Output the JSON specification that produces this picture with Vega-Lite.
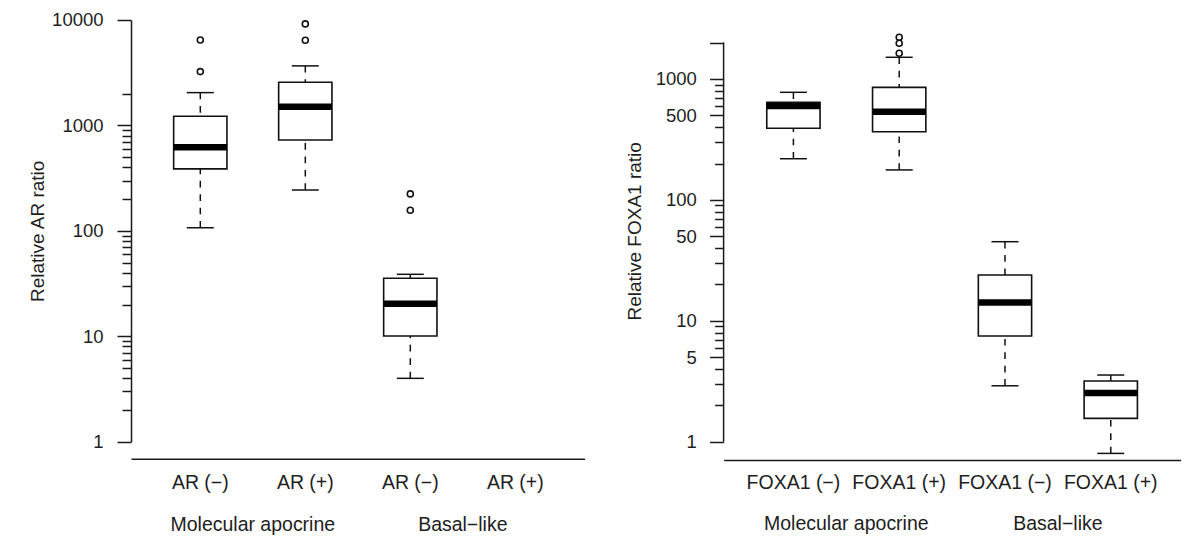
{
  "$schema": "https://vega.github.io/schema/vega-lite/v6.json",
  "background": "white",
  "padding": {"left": 28, "top": 11, "right": 5, "bottom": 5},
  "bounds": "flush",
  "spacing": 138.6,
  "config": {
    "view": {"stroke": null},
    "font": "Liberation Sans",
    "tick": {"opacity": 1},
    "axis": {"grid": false, "labelColor": "#1e1e1e", "titleColor": "#1e1e1e", "domainColor": "#1a1a1a", "tickColor": "#1a1a1a", "domainWidth": 1.5, "tickWidth": 1.5, "titleFontWeight": "normal", "labelFlush": false, "labelBound": false, "labelOverlap": false}
  },
  "datasets": {
    "ar_box": [
      {"id": "MA|AR (−)", "lower": 107, "q1": 387, "median": 621, "q3": 1222, "upper": 2047},
      {"id": "MA|AR (+)", "lower": 244, "q1": 728, "median": 1500, "q3": 2570, "upper": 3670},
      {"id": "BL|AR (−)", "lower": 3.99, "q1": 10.06, "median": 20.4, "q3": 35.5, "upper": 38.7}
    ],
    "ar_out": [
      {"id": "MA|AR (−)", "value": 3240},
      {"id": "MA|AR (−)", "value": 6470},
      {"id": "MA|AR (+)", "value": 6430},
      {"id": "MA|AR (+)", "value": 9180},
      {"id": "BL|AR (−)", "value": 157},
      {"id": "BL|AR (−)", "value": 224}
    ],
    "fx_box": [
      {"id": "MA|FOXA1 (−)", "lower": 219, "q1": 391, "median": 598, "q3": 642, "upper": 776},
      {"id": "MA|FOXA1 (+)", "lower": 177, "q1": 366, "median": 537, "q3": 853, "upper": 1512},
      {"id": "BL|FOXA1 (−)", "lower": 2.9, "q1": 7.48, "median": 14.2, "q3": 23.9, "upper": 45.1},
      {"id": "BL|FOXA1 (+)", "lower": 0.8, "q1": 1.56, "median": 2.53, "q3": 3.18, "upper": 3.56}
    ],
    "fx_out": [
      {"id": "MA|FOXA1 (+)", "value": 1632},
      {"id": "MA|FOXA1 (+)", "value": 1973},
      {"id": "MA|FOXA1 (+)", "value": 2213}
    ],
    "groups": [
      {"group": "Molecular apocrine"},
      {"group": "Basal−like"}
    ]
  },
  "hconcat": [
    {
      "width": 453.6,
      "height": 421.7,
      "resolve": {"scale": {"x": "independent"}, "axis": {"x": "independent"}},
      "layer": [
        {
          "layer": [
            {
              "data": {"name": "ar_box"},
              "mark": {"type": "rule", "strokeDash": [6.7, 6.7], "strokeWidth": 1.5, "color": "#111"},
              "encoding": {
                "x": {"field": "id", "type": "nominal", "sort": null,
                  "scale": {"type": "band", "domain": ["MA|AR (−)", "MA|AR (+)", "BL|AR (−)", "BL|AR (+)"], "paddingInner": 0, "paddingOuter": 0.16},
                  "axis": {"title": null, "ticks": false, "tickSize": 0, "labelAngle": 0, "labelExpr": "split(datum.value, '|')[1]", "labelFontSize": 19.5, "labelPadding": 15, "offset": 17}
                },
                "y": {"field": "lower", "type": "quantitative",
                  "scale": {"type": "log", "domain": [1, 10000], "nice": false},
                  "axis": {
                    "title": "Relative AR ratio", "titleFontSize": 19, "titlePadding": 4,
                    "values": [1, 2, 3, 4, 5, 6, 7, 8, 9, 10, 20, 30, 40, 50, 60, 70, 80, 90, 100, 200, 300, 400, 500, 600, 700, 800, 900, 1000, 2000, 10000],
                    "tickSize": {"condition": {"test": "indexof([1,10,100,1000,10000], datum.value) >= 0", "value": 14}, "value": 9},
                    "labelExpr": "indexof([1,10,100,1000,10000], datum.value) >= 0 ? format(datum.value, 'd') : ''",
                    "labelFontSize": 18.5, "labelPadding": 14
                  }
                },
                "y2": {"field": "q1"}
              }
            },
            {
              "data": {"name": "ar_box"},
              "mark": {"type": "rule", "strokeDash": [6.7, 6.7], "strokeWidth": 1.5, "color": "#111"},
              "encoding": {
                "x": {"field": "id", "type": "nominal", "sort": null},
                "y": {"field": "upper", "type": "quantitative"},
                "y2": {"field": "q3"}
              }
            },
            {
              "data": {"name": "ar_box"},
              "mark": {"type": "tick", "size": 27, "thickness": 1.5, "color": "#111", "opacity": 1},
              "encoding": {
                "x": {"field": "id", "type": "nominal", "sort": null},
                "y": {"field": "lower", "type": "quantitative"}
              }
            },
            {
              "data": {"name": "ar_box"},
              "mark": {"type": "tick", "size": 27, "thickness": 1.5, "color": "#111", "opacity": 1},
              "encoding": {
                "x": {"field": "id", "type": "nominal", "sort": null},
                "y": {"field": "upper", "type": "quantitative"}
              }
            },
            {
              "data": {"name": "ar_box"},
              "mark": {"type": "bar", "width": 53.3, "fill": "white", "stroke": "#111", "strokeWidth": 1.6},
              "encoding": {
                "x": {"field": "id", "type": "nominal", "sort": null},
                "y": {"field": "q1", "type": "quantitative"},
                "y2": {"field": "q3"}
              }
            },
            {
              "data": {"name": "ar_box"},
              "mark": {"type": "tick", "size": 53.3, "thickness": 6.5, "color": "#000", "opacity": 1},
              "encoding": {
                "x": {"field": "id", "type": "nominal", "sort": null},
                "y": {"field": "median", "type": "quantitative"}
              }
            },
            {
              "data": {"name": "ar_out"},
              "mark": {"type": "point", "shape": "circle", "filled": false, "size": 36, "stroke": "#111", "strokeWidth": 1.6, "opacity": 1},
              "encoding": {
                "x": {"field": "id", "type": "nominal", "sort": null},
                "y": {"field": "value", "type": "quantitative"}
              }
            }
          ]
        },
        {
          "data": {"name": "groups"},
          "mark": {"type": "text", "text": ""},
          "encoding": {
            "x": {"field": "group", "type": "nominal", "sort": null,
              "scale": {"type": "band", "domain": ["Molecular apocrine", "Basal−like"], "paddingInner": 0, "paddingOuter": 0.08},
              "axis": {"orient": "bottom", "title": null, "domain": false, "ticks": false, "tickSize": 0, "labelAngle": 0, "labelFontSize": 19.5, "labelPadding": 56.5, "offset": 17}
            }
          }
        }
      ]
    },
    {
      "width": 457,
      "height": 421.7,
      "resolve": {"scale": {"x": "independent"}, "axis": {"x": "independent"}},
      "layer": [
        {
          "layer": [
            {
              "data": {"name": "fx_box"},
              "mark": {"type": "rule", "strokeDash": [6.7, 6.7], "strokeWidth": 1.5, "color": "#111"},
              "encoding": {
                "x": {"field": "id", "type": "nominal", "sort": null,
                  "scale": {"type": "band", "domain": ["MA|FOXA1 (−)", "MA|FOXA1 (+)", "BL|FOXA1 (−)", "BL|FOXA1 (+)"], "paddingInner": 0, "paddingOuter": 0.16},
                  "axis": {"title": null, "ticks": false, "tickSize": 0, "labelAngle": 0, "labelExpr": "split(datum.value, '|')[1]", "labelFontSize": 19.5, "labelPadding": 13.6, "offset": 18.3}
                },
                "y": {"field": "lower", "type": "quantitative",
                  "scale": {"type": "log", "domain": [1, 3076], "nice": false},
                  "axis": {
                    "title": "Relative FOXA1 ratio", "titleFontSize": 19, "titlePadding": 11, "domain": false,
                    "values": [1, 2, 3, 4, 5, 6, 7, 8, 9, 10, 20, 30, 40, 50, 60, 70, 80, 90, 100, 200, 300, 400, 500, 600, 700, 800, 900, 1000, 2000],
                    "tickSize": {"condition": {"test": "indexof([1,5,10,50,100,500,1000,2000], datum.value) >= 0", "value": 14}, "value": 9},
                    "labelExpr": "indexof([1,5,10,50,100,500,1000], datum.value) >= 0 ? format(datum.value, 'd') : ''",
                    "labelFontSize": 18.5, "labelPadding": 13.3
                  }
                },
                "y2": {"field": "q1"}
              }
            },
            {
              "data": {"name": "fx_box"},
              "mark": {"type": "rule", "strokeDash": [6.7, 6.7], "strokeWidth": 1.5, "color": "#111"},
              "encoding": {
                "x": {"field": "id", "type": "nominal", "sort": null},
                "y": {"field": "upper", "type": "quantitative"},
                "y2": {"field": "q3"}
              }
            },
            {
              "data": {"name": "fx_box"},
              "mark": {"type": "tick", "size": 27, "thickness": 1.5, "color": "#111", "opacity": 1},
              "encoding": {
                "x": {"field": "id", "type": "nominal", "sort": null},
                "y": {"field": "lower", "type": "quantitative"}
              }
            },
            {
              "data": {"name": "fx_box"},
              "mark": {"type": "tick", "size": 27, "thickness": 1.5, "color": "#111", "opacity": 1},
              "encoding": {
                "x": {"field": "id", "type": "nominal", "sort": null},
                "y": {"field": "upper", "type": "quantitative"}
              }
            },
            {
              "data": {"name": "fx_box"},
              "mark": {"type": "bar", "width": 53.3, "fill": "white", "stroke": "#111", "strokeWidth": 1.6},
              "encoding": {
                "x": {"field": "id", "type": "nominal", "sort": null},
                "y": {"field": "q1", "type": "quantitative"},
                "y2": {"field": "q3"}
              }
            },
            {
              "data": {"name": "fx_box"},
              "mark": {"type": "tick", "size": 53.3, "thickness": 6.5, "color": "#000", "opacity": 1},
              "encoding": {
                "x": {"field": "id", "type": "nominal", "sort": null},
                "y": {"field": "median", "type": "quantitative"}
              }
            },
            {
              "data": {"name": "fx_out"},
              "mark": {"type": "point", "shape": "circle", "filled": false, "size": 36, "stroke": "#111", "strokeWidth": 1.6, "opacity": 1},
              "encoding": {
                "x": {"field": "id", "type": "nominal", "sort": null},
                "y": {"field": "value", "type": "quantitative"}
              }
            },
            {
              "data": {"values": [{}]},
              "mark": {"type": "rule", "strokeWidth": 1.5, "color": "#1a1a1a"},
              "encoding": {
                "x": {"value": 0},
                "y": {"datum": 1, "type": "quantitative"},
                "y2": {"datum": 2000}
              }
            }
          ]
        },
        {
          "data": {"name": "groups"},
          "mark": {"type": "text", "text": ""},
          "encoding": {
            "x": {"field": "group", "type": "nominal", "sort": null,
              "scale": {"type": "band", "domain": ["Molecular apocrine", "Basal−like"], "paddingInner": 0, "paddingOuter": 0.08},
              "axis": {"orient": "bottom", "title": null, "domain": false, "ticks": false, "tickSize": 0, "labelAngle": 0, "labelFontSize": 19.5, "labelPadding": 55, "offset": 18.3}
            }
          }
        }
      ]
    }
  ]
}
